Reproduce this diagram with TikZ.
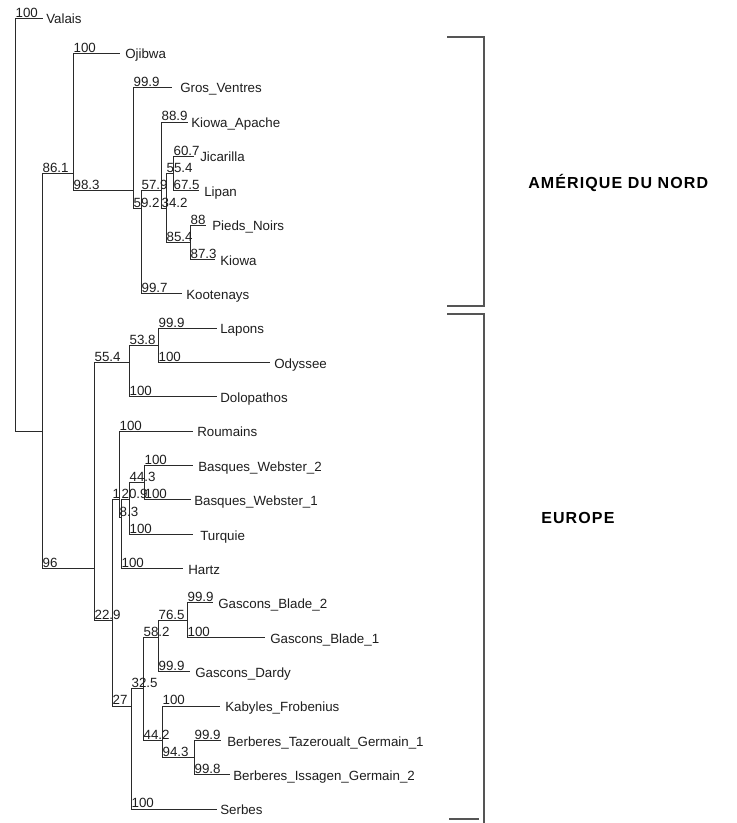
\documentclass[tikz,border=0pt]{standalone}
\usepackage{fontspec}
\setmainfont{Liberation Sans}
\newfontfamily\regionfont[LetterSpace=7]{Liberation Sans}
\definecolor{treeline}{HTML}{2A2A2A}
\definecolor{treetext}{HTML}{1E1E1E}
\definecolor{brackgray}{HTML}{555555}
\begin{document}
\begin{tikzpicture}[x=0.75pt,y=-0.75pt,
  br/.style={draw=treeline, line width=0.75pt},
  bs/.style={anchor=base west, inner sep=0pt, yshift=0.8pt, xshift=0.3pt, font=\fontsize{10}{11}\selectfont, text=treetext},
  nm/.style={anchor=base west, inner sep=0pt, font=\fontsize{10}{11}\selectfont, text=treetext},
  brk/.style={draw=brackgray, line width=2.2pt},
  region/.style={anchor=base west, inner sep=0pt, font=\regionfont\bfseries\fontsize{12}{13}\selectfont, text=black}]
\useasboundingbox (0,0) rectangle (737,823);
\fill[white] (0,0) rectangle (737,823);
% internal nodes
\coordinate (R) at (15,431.2);
\coordinate (A) at (42,431.2);
\coordinate (NA) at (73,173.6);
\coordinate (B) at (133,190.75);
\coordinate (C) at (141,208.1);
\coordinate (D) at (161,190.75);
\coordinate (E) at (166,208.1);
\coordinate (F) at (173,173.6);
\coordinate (G) at (190,242.3);
\coordinate (EU) at (94,568.6);
\coordinate (H) at (129,362.5);
\coordinate (J) at (158,345.3);
\coordinate (I) at (112,620.1);
\coordinate (K) at (119,499.9);
\coordinate (Q) at (121,517.1);
\coordinate (O) at (129,499.9);
\coordinate (M) at (144,482.7);
\coordinate (L) at (131,706);
\coordinate (S) at (143,688.8);
\coordinate (T) at (158,637.3);
\coordinate (V) at (187,620.1);
\coordinate (U) at (162,740.35);
\coordinate (W) at (194,757.5);
% leaf ends
\coordinate (lVal) at (43,19);
\coordinate (lOji) at (120,53.35);
\coordinate (lGV) at (172,87.7);
\coordinate (lKA) at (188,122.05);
\coordinate (lJic) at (194,156.4);
\coordinate (lLip) at (199,190.75);
\coordinate (lPN) at (206,225.1);
\coordinate (lKio) at (215,259.45);
\coordinate (lKoo) at (182,293.8);
\coordinate (lLap) at (217,328.15);
\coordinate (lOdy) at (270,362.5);
\coordinate (lDol) at (217,396.85);
\coordinate (lRou) at (193,431.2);
\coordinate (lBW2) at (193,465.55);
\coordinate (lBW1) at (191,499.9);
\coordinate (lTur) at (193,534.25);
\coordinate (lHar) at (183,568.6);
\coordinate (lGB2) at (213,602.95);
\coordinate (lGB1) at (265,637.3);
\coordinate (lGD) at (190,671.65);
\coordinate (lKF) at (220,706);
\coordinate (lBT) at (221,740.35);
\coordinate (lBI) at (230,774.7);
\coordinate (lSer) at (217,809.05);
% vertical lines
\foreach \p/\a/\b in {R/lVal/A, A/NA/EU, NA/lOji/B, B/lGV/C, C/D/lKoo, D/lKA/E, E/F/G, F/lJic/lLip, G/lPN/lKio,
  EU/H/I, H/J/lDol, J/lLap/lOdy, I/K/L, K/lRou/Q, Q/O/lHar, O/M/lTur, M/lBW2/lBW1,
  L/S/lSer, S/T/U, T/V/lGD, V/lGB2/lGB1, U/lKF/W, W/lBT/lBI}
  \draw[br] (\p |- \a) -- (\p |- \b);
% horizontal lines
\foreach \p/\c in {R/lVal, R/A, A/NA, A/EU, NA/lOji, NA/B, B/lGV, B/C, C/D, C/lKoo, D/lKA, D/E, E/F, E/G,
  F/lJic, F/lLip, G/lPN, G/lKio, EU/H, EU/I, H/J, H/lDol, J/lLap, J/lOdy, I/K, I/L, K/lRou, K/Q,
  Q/O, Q/lHar, O/M, O/lTur, M/lBW2, M/lBW1, L/S, L/lSer, S/T, S/U, T/V, T/lGD, V/lGB2, V/lGB1,
  U/lKF, U/W, W/lBT, W/lBI}
  \draw[br] (\p |- \c) -- (\c);
% support values
\node[bs] (sVal) at (R |- lVal) {100};
\node[bs] (sNA) at (A |- NA) {86.1};
\node[bs] (sEU) at (A |- EU) {96};
\node[bs] (sOji) at (NA |- lOji) {100};
\node[bs] (sB) at (NA |- B) {98.3};
\node[bs] (sGV) at (B |- lGV) {99.9};
\node[bs] (sC) at (B |- C) {59.2};
\node[bs] (sD) at (C |- D) {57.9};
\node[bs] (sKoo) at (C |- lKoo) {99.7};
\node[bs] (sKA) at (D |- lKA) {88.9};
\node[bs] (sE) at (D |- E) {34.2};
\node[bs] (sF) at (E |- F) {55.4};
\node[bs] (sG) at (E |- G) {85.4};
\node[bs] (sJic) at (F |- lJic) {60.7};
\node[bs] (sLip) at (F |- lLip) {67.5};
\node[bs] (sPN) at (G |- lPN) {88};
\node[bs] (sKio) at (G |- lKio) {87.3};
\node[bs] (sH) at (EU |- H) {55.4};
\node[bs] (sI) at (EU |- I) {22.9};
\node[bs] (sJ) at (H |- J) {53.8};
\node[bs] (sDol) at (H |- lDol) {100};
\node[bs] (sLap) at (J |- lLap) {99.9};
\node[bs] (sOdy) at (J |- lOdy) {100};
\node[bs] (sK) at (I |- K) {1};
\node[bs] (sL) at (I |- L) {27};
\node[bs] (sRou) at (K |- lRou) {100};
\node[bs] (sQ) at (K |- Q) {8.3};
\node[bs] (sO) at (Q |- O) {20.9};
\node[bs] (sHar) at (Q |- lHar) {100};
\node[bs] (sM) at (O |- M) {44.3};
\node[bs] (sTur) at (O |- lTur) {100};
\node[bs] (sBW2) at (M |- lBW2) {100};
\node[bs] (sBW1) at (M |- lBW1) {100};
\node[bs] (sS) at (L |- S) {32.5};
\node[bs] (sSer) at (L |- lSer) {100};
\node[bs] (sT) at (S |- T) {58.2};
\node[bs] (sU) at (S |- U) {44.2};
\node[bs] (sV) at (T |- V) {76.5};
\node[bs] (sGD) at (T |- lGD) {99.9};
\node[bs] (sGB2) at (V |- lGB2) {99.9};
\node[bs] (sGB1) at (V |- lGB1) {100};
\node[bs] (sKF) at (U |- lKF) {100};
\node[bs] (sW) at (U |- W) {94.3};
\node[bs] (sBT) at (W |- lBT) {99.9};
\node[bs] (sBI) at (W |- lBI) {99.8};
% leaf names
\node[nm] (nVal) at (46,24) {Valais};
\node[nm] (nOji) at (125,58.5) {Ojibwa};
\node[nm] (nGV) at (180,93) {Gros\_Ventres};
\node[nm] (nKA) at (191,127.5) {Kiowa\_Apache};
\node[nm] (nJic) at (200,162) {Jicarilla};
\node[nm] (nLip) at (204,197) {Lipan};
\node[nm] (nPN) at (212,231) {Pieds\_Noirs};
\node[nm] (nKio) at (220,266) {Kiowa};
\node[nm] (nKoo) at (186,299) {Kootenays};
\node[nm] (nLap) at (220,333.5) {Lapons};
\node[nm] (nOdy) at (274,368) {Odyssee};
\node[nm] (nDol) at (220,402) {Dolopathos};
\node[nm] (nRou) at (197,436.5) {Roumains};
\node[nm] (nBW2) at (198,471) {Basques\_Webster\_2};
\node[nm] (nBW1) at (194,505.5) {Basques\_Webster\_1};
\node[nm] (nTur) at (200,540) {Turquie};
\node[nm] (nHar) at (188,574) {Hartz};
\node[nm] (nGB2) at (218,608.5) {Gascons\_Blade\_2};
\node[nm] (nGB1) at (270,643) {Gascons\_Blade\_1};
\node[nm] (nGD) at (195,677) {Gascons\_Dardy};
\node[nm] (nKF) at (225,711.5) {Kabyles\_Frobenius};
\node[nm] (nBT) at (227,746) {Berberes\_Tazeroualt\_Germain\_1};
\node[nm] (nBI) at (233,780) {Berberes\_Issagen\_Germain\_2};
\node[nm] (nSer) at (220,814.5) {Serbes};
% brackets
\coordinate (naTop) at (447,37);
\coordinate (naBot) at (447,306);
\coordinate (naSpine) at (484,0);
\draw[brk] (naTop) -- (naSpine |- naTop) -- (naSpine |- naBot) -- (naBot);
\coordinate (euTop) at (447,314);
\coordinate (euEnd) at (484,823);
\draw[brk] (euTop) -- (euEnd |- euTop) -- (euEnd);
\coordinate (euFootA) at (449,819);
\coordinate (euFootB) at (479,819);
\draw[brk] (euFootA) -- (euFootB);
% region labels
\node[region] (rNA) at (528,189) {AMÉRIQUE DU NORD};
\node[region] (rEU) at (541,523) {EUROPE};
\end{tikzpicture}
\end{document}
